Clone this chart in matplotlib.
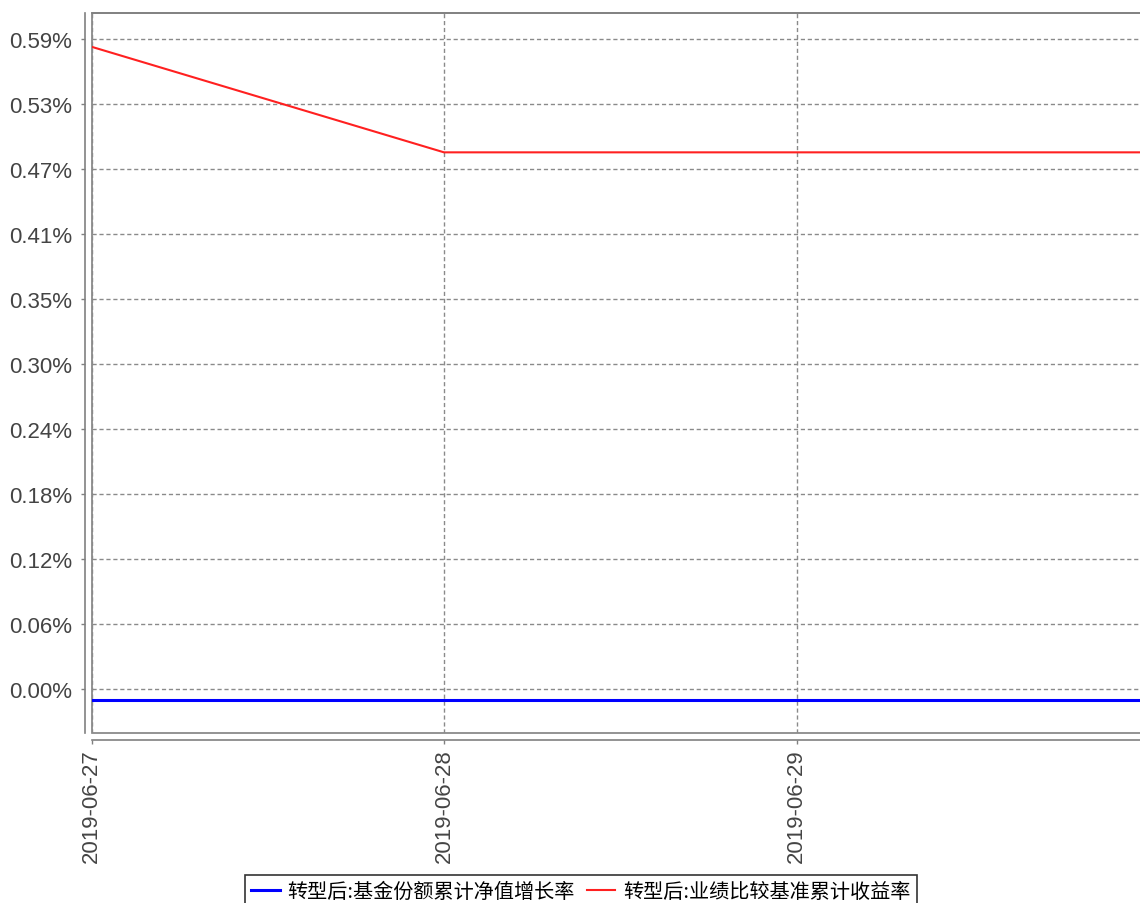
import datetime
import matplotlib
matplotlib.use('Agg')
import matplotlib.pyplot as plt
import matplotlib.dates as mdates
from matplotlib.ticker import FixedLocator, FuncFormatter

# 字体：数字用 Arial 类，中文用 Noto Sans CJK
matplotlib.rcParams['font.family'] = ['Liberation Sans', 'Noto Sans CJK SC', 'DejaVu Sans']

# 数据
dates = [datetime.date(2019, 6, 27), datetime.date(2019, 6, 28),
         datetime.date(2019, 6, 29), datetime.date(2019, 6, 30)]
fund_growth = [-0.010, -0.010, -0.010, -0.010]      # 转型后:基金份额累计净值增长率 (%)
bench_return = [0.5840, 0.4880, 0.4880, 0.4880]     # 转型后:业绩比较基准累计收益率 (%)
series_names = ['转型后:基金份额累计净值增长率', '转型后:业绩比较基准累计收益率']
tick_step = 0.0591
date_labels = ['2019-06-27', '2019-06-28', '2019-06-29']

W, H = 1140, 904
fig = plt.figure(figsize=(W / 100, H / 100), dpi=100)
ax = fig.add_axes([91.5 / W, (H - 734) / H, (1142 - 91.5) / W, 720 / H])

ax.plot(mdates.date2num(dates), fund_growth, color='#0000ff', lw=2.2, label=series_names[0])
ax.plot(mdates.date2num(dates), bench_return, color='#ff2020', lw=1.5, label=series_names[1])

x0 = mdates.date2num(dates[0])
ax.set_xlim(x0, x0 + (1142 - 91.5) / 352.5)
ax.set_ylim(-0.0400, 0.6147)

ax.xaxis.set_major_locator(FixedLocator([mdates.date2num(datetime.date(2019, 6, d)) for d in (27, 28, 29)]))
ax.xaxis.set_major_formatter(FuncFormatter(lambda v, p: date_labels[p] if p is not None and p < len(date_labels) else ''))
ax.yaxis.set_major_locator(FixedLocator([i * tick_step for i in range(11)]))
ax.yaxis.set_major_formatter(FuncFormatter(lambda v, p: '%.2f%%' % v))

ax.tick_params(axis='both', colors='#808080', labelcolor='#444444', labelsize=16, length=3, width=1)
ax.tick_params(axis='x', labelrotation=90, pad=3)
ax.tick_params(axis='y', pad=6)

# 网格
ax.grid(True, color='#8a8a8a', linestyle=(0, (3, 2)), linewidth=1)

# 坐标轴线偏移（JFreeChart 风格）
ax.spines['left'].set_position(('outward', 5))
ax.spines['bottom'].set_position(('outward', 5))
for s in ('left', 'bottom', 'top'):
    ax.spines[s].set_color('#808080')
    ax.spines[s].set_linewidth(1.2)
ax.spines['right'].set_visible(False)
ax.patch.set_edgecolor('#808080')
ax.patch.set_linewidth(1.2)

leg = fig.legend(loc='upper center', bbox_to_anchor=(581 / W, 1 - 876 / H), ncol=2,
                 prop={'family': ['Noto Sans CJK SC'], 'size': 14.5}, frameon=True, fancybox=False,
                 edgecolor='black', handlelength=1.4, handletextpad=0.4, columnspacing=0.6,
                 borderpad=0.3, borderaxespad=0)
leg.get_frame().set_linewidth(1.2)

fig.savefig('out.png', dpi=100)
